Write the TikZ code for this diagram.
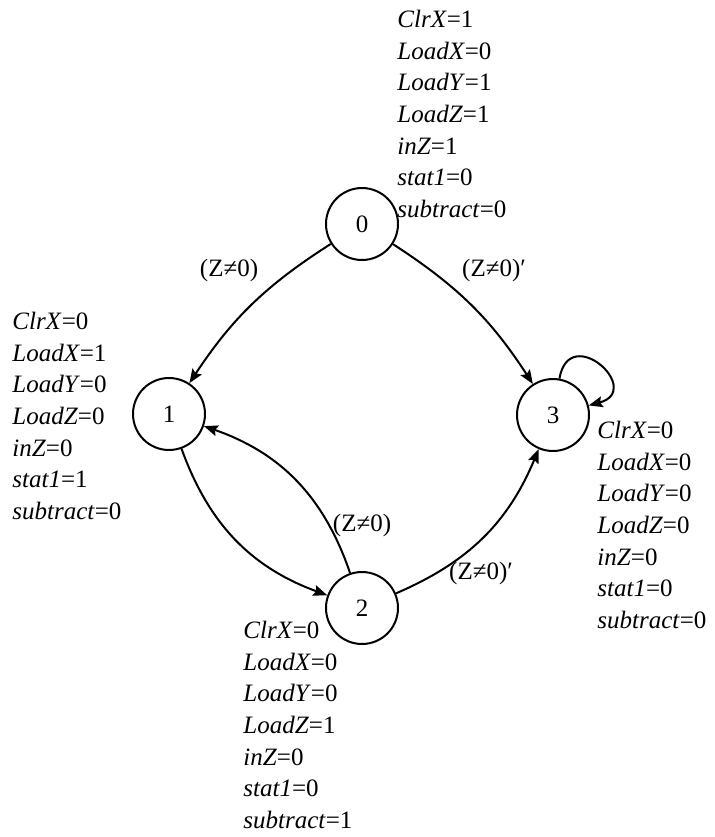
\documentclass[tikz,border=0pt]{standalone}
\usepackage{fontspec}
\setmainfont{Liberation Serif}
\usetikzlibrary{arrows.meta}
\tikzset{
  state/.style={circle, draw, line width=1pt, minimum size=36pt, inner sep=0pt,
    font=\fontsize{12.5}{15}\selectfont},
  outs/.style={anchor=north west, align=left, inner sep=0pt,
    font=\fontsize{12.5}{15.8}\selectfont},
  cond/.style={inner sep=0pt, font=\fontsize{12.5}{15}\selectfont},
  trans/.style={-{Stealth[length=7pt,width=5.5pt,inset=1.2pt]}, line width=1pt},
}
\newcommand{\sig}[2]{\textit{#1}=#2}

\begin{document}
\begin{tikzpicture}[x=0.5pt,y=0.5pt]
  \useasboundingbox (0,0) rectangle (715,-837);

  % States
  \node[state] (s0) at (362,-224) {0};
  \node[state] (s1) at (169,-414) {1};
  \node[state] (s2) at (362,-608) {2};
  \node[state] (s3) at (553,-415) {3};

  % Outputs of each state
  \node[outs] (o0) at (397,-10) {\sig{ClrX}{1}\\ \sig{LoadX}{0}\\ \sig{LoadY}{1}\\
    \sig{LoadZ}{1}\\ \sig{inZ}{1}\\ \sig{stat1}{0}\\ \sig{subtract}{0}};
  \node[outs] (o1) at (12,-312) {\sig{ClrX}{0}\\ \sig{LoadX}{1}\\ \sig{LoadY}{0}\\
    \sig{LoadZ}{0}\\ \sig{inZ}{0}\\ \sig{stat1}{1}\\ \sig{subtract}{0}};
  \node[outs] (o2) at (243,-621) {\sig{ClrX}{0}\\ \sig{LoadX}{0}\\ \sig{LoadY}{0}\\
    \sig{LoadZ}{1}\\ \sig{inZ}{0}\\ \sig{stat1}{0}\\ \sig{subtract}{1}};
  \node[outs] (o3) at (597,-421) {\sig{ClrX}{0}\\ \sig{LoadX}{0}\\ \sig{LoadY}{0}\\
    \sig{LoadZ}{0}\\ \sig{inZ}{0}\\ \sig{stat1}{0}\\ \sig{subtract}{0}};

  % Transitions
  \draw[trans] (s0) to[bend right=12] (s1);
  \draw[trans] (s0) to[bend left=12] (s3);
  \draw[trans] (s1) to[bend right=25] (s2);
  \draw[trans] (s2) to[bend right=26] (s1);
  \draw[trans] (s2) to[bend right=22] (s3);
  \draw[trans] (s3) to[out=80, in=15, min distance=29pt] (s3);

  % Conditions
  \node[cond] (c01) at (229,-270) {(Z≠0)};
  \node[cond] (c03) at (494,-270) {(Z≠0)′};
  \node[cond] (c21) at (362,-525) {(Z≠0)};
  \node[cond] (c23) at (481,-573) {(Z≠0)′};
\end{tikzpicture}
\end{document}
